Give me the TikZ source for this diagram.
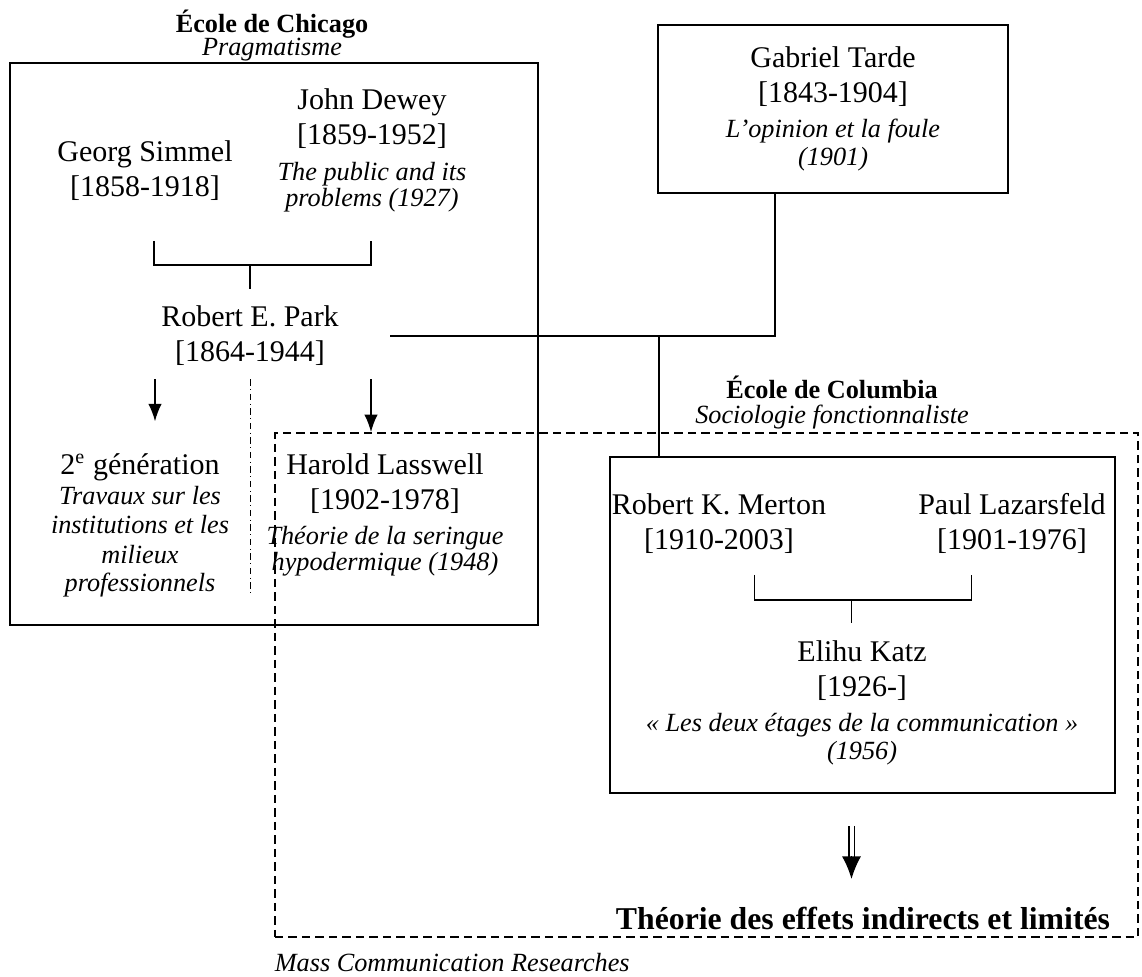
\documentclass[tikz,border=0pt]{standalone}
\usepackage{fontspec}
\setmainfont{Liberation Serif}
\usepackage{tikz}
\usetikzlibrary{arrows.meta}
\usetikzlibrary{positioning}
\usetikzlibrary{calc}
\newcommand\ouvrage[1]{{\fontsize{10.5}{12}\selectfont\itshape #1}}

\begin{document}
\begin{tikzpicture}[x=0.4pt,y=-0.4pt,>={Latex[length=7pt,width=5.4pt]},line width=0.6pt]
\tikzstyle{every node}=[font=\fontsize{12}{14}\selectfont,inner sep=0pt,align=center]
\tikzstyle{cadre}=[draw,line width=0.8pt]
\tikzstyle{ecole}=[font=\fontsize{10.5}{12}\selectfont\bfseries]
\tikzstyle{courant}=[font=\fontsize{10.5}{12}\selectfont\itshape]
\path[use as bounding box] (0,0) rectangle (1142,977);

% Chicago
\path node[ecole] (chi) at (272,24) {École de Chicago};
\path node[courant] (prag) at (272,50) {Pragmatisme};
\path node[cadre,minimum width=211.2pt,minimum height=224.8pt] (chicago) at (274,344) {};
\path node[anchor=north] (simmel) at (145,140) {Georg Simmel\\{[1858-1918]}};
\path node[anchor=north] (dewey) at (372,88) {John Dewey\\{[1859-1952]}\\[0.5pt]\ouvrage{The public and its}\\[-3.6pt]\ouvrage{problems (1927)}};
\path node[anchor=north] (park) at (250,305) {Robert E. Park\\{[1864-1944]}};
\path node[anchor=north] (gen) at (140,453) {2\textsuperscript{e} génération\\[-2.2pt]\ouvrage{Travaux sur les}\\[-2.2pt]\ouvrage{institutions et les}\\[-2.2pt]\ouvrage{milieux}\\[-2.6pt]\ouvrage{professionnels}};
\path node[anchor=north] (lasswell) at (385,453) {Harold Lasswell\\{[1902-1978]}\\\ouvrage{Théorie de la seringue}\\[-3.6pt]\ouvrage{hypodermique (1948)}};

% Tarde
\path node[cadre,minimum width=140pt,minimum height=67.2pt] (tarde) at (833,109) {Gabriel Tarde\\{[1843-1904]}\\\ouvrage{L’opinion et la foule}\\[-3pt]\ouvrage{(1901)}};

% Columbia
\path node[ecole] (col) at (832,387) {École de Columbia};
\path node[courant] (fonc) at (832,417) {Sociologie fonctionnaliste};
\path node[draw,line width=0.7pt,dash pattern=on 3.4pt off 2pt,minimum width=345.2pt,minimum height=201.6pt] (mcr) at (706.5,685) {};
\path node[courant,anchor=north west,below right=6pt and 0pt of mcr.south west] (mcrlab) {Mass Communication Researches};
\path node[cadre,minimum width=202pt,minimum height=134.4pt] (columbia) at (862.5,625) {};
\path node[anchor=north] (merton) at (719,493) {Robert K. Merton\\{[1910-2003]}};
\path node[anchor=north] (lazarsfeld) at (1012,493) {Paul Lazarsfeld\\{[1901-1976]}};
\path node[anchor=north] (katz) at (862,640) {Elihu Katz\\{[1926-]}\\\ouvrage{« Les deux étages de la communication »}\\[-3pt]\ouvrage{(1956)}};
\path node[font=\fontsize{12.7}{15}\selectfont\bfseries] (effets) at (863,918) {Théorie des effets indirects et limités};

% liens
\coordinate (j1) at ($(park.north)+(0,-40)$);
\path[draw] ($(j1)+(-96,-24)$) |- (j1) -| ($(j1)+(121,-24)$);
\path[draw,shorten >=6.4pt] (j1) -- (park.north);
\coordinate (tp) at ($(columbia.north west)+(50,-120)$);
\path[draw,shorten <=20.4pt] (tp -| park.east) -| ($(tarde.south)+(-58,0)$);
\path[draw] (tp) -- (tp |- columbia.north);
\path[->,draw] ($(park.south)+(-95,13)$) -- ++(0,42);
\path[->,draw] ($(park.south)+(121,13)$) coordinate (pr) -- (pr |- mcr.north);
\path[draw,line width=0.4pt,dash pattern=on 2.6pt off 1.4pt on 0.4pt off 1.4pt] ($(park.south)+(0,13)$) -- ++(0,217);

\coordinate (j2) at ($(columbia.north)+(-11,144)$);
\path[draw] ($(j2)+(-97,-25)$) |- (j2) -| ($(j2)+(120,-25)$);
\path[draw] (j2) -- ++(0,23);
\coordinate (fl) at ($(columbia.south)+(-11,32)$);
\path[draw,double,line width=0.5pt,double distance=1.6pt] (fl) -- ++(0,32);
\path[draw,-{Latex[length=9pt,width=7.6pt]}] ($(fl)+(0,30)$) -- ++(0,23);
\end{tikzpicture}
\end{document}
